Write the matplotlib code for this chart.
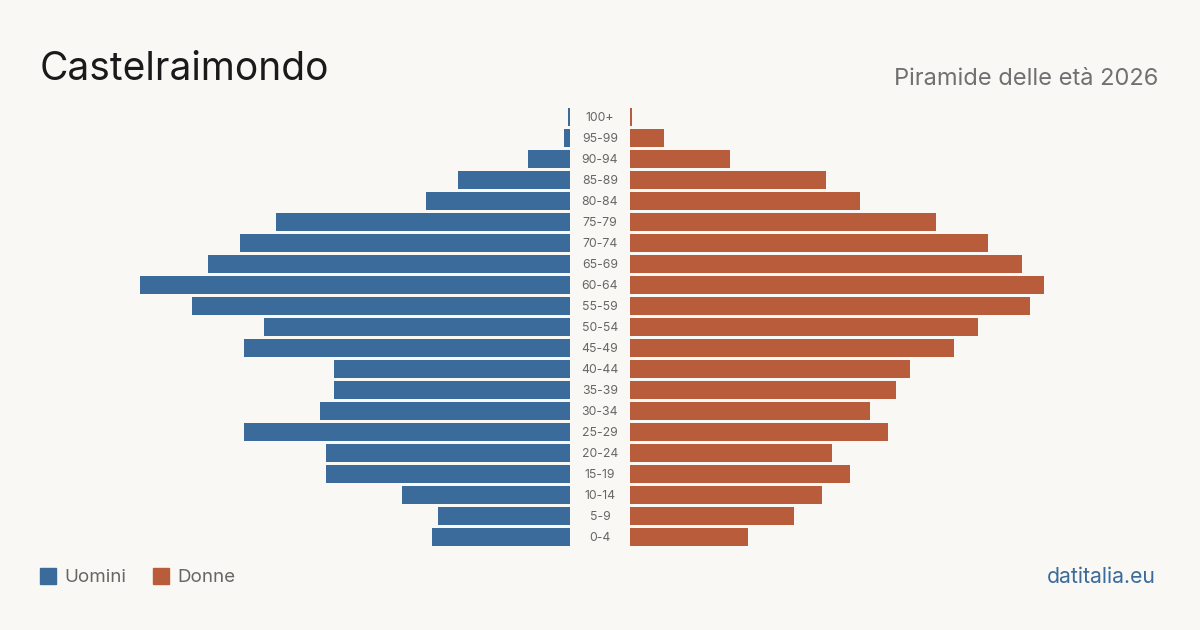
import matplotlib.pyplot as plt
import matplotlib.patches as mpatches
import matplotlib.transforms as mtransforms

plt.rcParams['font.family'] = ['Inter', 'DejaVu Sans']

# age groups from youngest to oldest
age_groups = ['0-4', '5-9', '10-14', '15-19', '20-24', '25-29', '30-34', '35-39',
              '40-44', '45-49', '50-54', '55-59', '60-64', '65-69', '70-74',
              '75-79', '80-84', '85-89', '90-94', '95-99', '100+']
men = [69, 66, 84, 122, 122, 163, 125, 118, 118, 163, 153, 189, 215,
       181, 165, 147, 72, 56, 21, 3, 1]
women = [59, 82, 96, 110, 101, 129, 120, 133, 140, 162, 174, 200, 207,
         196, 179, 153, 115, 98, 50, 17, 1]

BLUE = '#3b6b9b'
ORANGE = '#b95c3c'
BG = '#f9f8f4'

fig = plt.figure(figsize=(12, 6.3), dpi=100, facecolor=BG)

W, H = 1200, 630
bottom = (H - 547.5) / H
height = 441 / H
ax_l = fig.add_axes([40 / W, bottom, 530 / W, height])
ax_r = fig.add_axes([630 / W, bottom, 530 / W, height])

ypos = list(range(len(age_groups)))
ax_l.barh(ypos, men, height=0.81, color=BLUE)
ax_r.barh(ypos, women, height=0.81, color=ORANGE)

ax_l.set_xlim(265, 0)
ax_r.set_xlim(0, 265)
for ax in (ax_l, ax_r):
    ax.set_ylim(-0.5, len(age_groups) - 0.5)
    ax.axis('off')
    ax.set_facecolor(BG)

# age labels in the gap between the two halves
trans = mtransforms.blended_transform_factory(fig.transFigure, ax_r.transData)
for y, lab in zip(ypos, age_groups):
    ax_r.text(0.5, y - 0.05, lab, transform=trans, ha='center', va='center',
              fontsize=8.8, color='#666666', clip_on=False)

fig.text(40 / W, 1 - 80 / H, 'Castelraimondo', fontsize=28, color='#1a1a1a',
         ha='left', va='baseline')
fig.text(1158 / W, 1 - 85 / H, 'Piramide delle età 2026', fontsize=17,
         color='#707070', ha='right', va='baseline')

# legend
fig.patches.append(mpatches.Rectangle((40 / W, 1 - 583.5 / H), 15.5 / W, 15.5 / H,
                                      transform=fig.transFigure, color=BLUE))
fig.text(64 / W, 1 - 577 / H, 'Uomini', fontsize=13.5, color='#666666',
         ha='left', va='center')
fig.patches.append(mpatches.Rectangle((153 / W, 1 - 583.5 / H), 15.5 / W, 15.5 / H,
                                      transform=fig.transFigure, color=ORANGE))
fig.text(177 / W, 1 - 577 / H, 'Donne', fontsize=13.5, color='#666666',
         ha='left', va='center')

fig.text(1156 / W, 1 - 577 / H, 'datitalia.eu', fontsize=15.3, color='#3b6b9b',
         ha='right', va='center')

fig.savefig('out.png', dpi=100, facecolor=BG)
